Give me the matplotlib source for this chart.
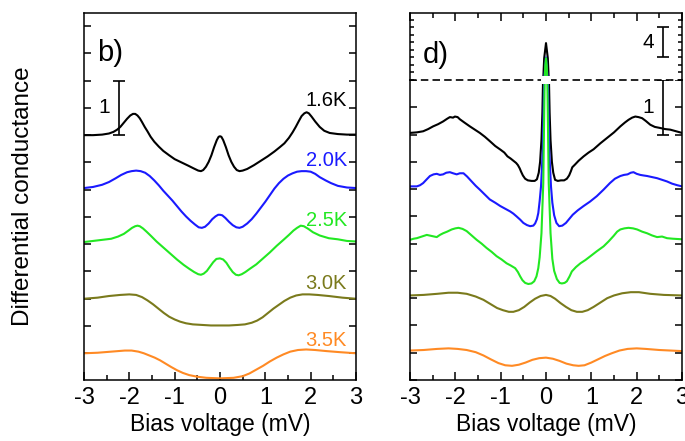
import matplotlib
matplotlib.use("Agg")
import matplotlib.pyplot as plt
from matplotlib.ticker import MultipleLocator
from matplotlib.patches import Rectangle
from matplotlib.transforms import blended_transform_factory

plt.rcParams['font.family'] = ['Liberation Sans', 'DejaVu Sans']
plt.rcParams['axes.unicode_minus'] = False

# ---------------- data: panel b) ----------------
b_x_16 = [-3.0, -2.8, -2.6, -2.45, -2.35, -2.27, -2.2, -2.12, -2.05, -1.98, -1.92, -1.87, -1.82,
          -1.77, -1.72, -1.66, -1.6, -1.53, -1.45, -1.35, -1.25, -1.12, -1.0, -0.85, -0.7, -0.58,
          -0.48, -0.42, -0.37, -0.31, -0.25, -0.19, -0.13, -0.07, -0.03, 0.0, 0.03, 0.07, 0.13,
          0.19, 0.25, 0.31, 0.37, 0.43, 0.5, 0.6, 0.75, 0.9, 1.05, 1.2, 1.32, 1.42, 1.52, 1.6,
          1.67, 1.74, 1.8, 1.86, 1.91, 1.96, 2.02, 2.1, 2.2, 2.3, 2.42, 2.6, 2.8, 3.0]
b_y_16 = [4.00, 4.00, 4.01, 4.03, 4.06, 4.10, 4.15, 4.23, 4.30, 4.36, 4.39, 4.39, 4.36,
          4.31, 4.24, 4.15, 4.07, 3.97, 3.88, 3.79, 3.71, 3.63, 3.56, 3.50, 3.44, 3.39,
          3.35, 3.34, 3.36, 3.42, 3.51, 3.63, 3.78, 3.91, 3.97, 3.98, 3.97, 3.91, 3.78,
          3.63, 3.51, 3.42, 3.36, 3.34, 3.35, 3.38, 3.45, 3.53, 3.61, 3.70, 3.78, 3.85, 3.95, 4.05,
          4.15, 4.26, 4.35, 4.40, 4.42, 4.40, 4.34, 4.25, 4.15, 4.08, 4.04, 4.02, 4.01, 4.01]

b_x_20 = [-3.0, -2.8, -2.6, -2.45, -2.3, -2.18, -2.05, -1.95, -1.85, -1.75, -1.65, -1.55, -1.45,
          -1.35, -1.25, -1.15, -1.05, -0.95, -0.85, -0.75, -0.65, -0.55, -0.47, -0.4, -0.33,
          -0.25, -0.17, -0.1, -0.04, 0.0, 0.05, 0.12, 0.2, 0.28, 0.36, 0.43, 0.5, 0.6, 0.7, 0.8,
          0.9, 1.0, 1.1, 1.2, 1.3, 1.4, 1.5, 1.6, 1.7, 1.8, 1.9, 2.0, 2.1, 2.2, 2.33, 2.45, 2.6,
          2.8, 3.0]
b_y_20 = [3.03, 3.05, 3.09, 3.14, 3.21, 3.27, 3.32, 3.34, 3.35, 3.34, 3.31, 3.25, 3.17,
          3.08, 2.98, 2.89, 2.80, 2.70, 2.60, 2.51, 2.43, 2.36, 2.31, 2.30, 2.32,
          2.38, 2.46, 2.51, 2.54, 2.54, 2.53, 2.48, 2.41, 2.35, 2.31, 2.30, 2.32, 2.38, 2.46, 2.56,
          2.67, 2.78, 2.90, 3.02, 3.12, 3.20, 3.26, 3.30, 3.33, 3.34, 3.34, 3.33, 3.29, 3.23, 3.17,
          3.12, 3.07, 3.04, 3.03]

b_x_25 = [-3.0, -2.8, -2.6, -2.4, -2.25, -2.12, -2.02, -1.94, -1.87, -1.82, -1.77, -1.7, -1.62,
          -1.52, -1.4, -1.25, -1.1, -0.95, -0.8, -0.68, -0.57, -0.48, -0.42, -0.36, -0.29, -0.22,
          -0.15, -0.08, 0.0, 0.07, 0.14, 0.21, 0.28, 0.35, 0.41, 0.48, 0.56, 0.66, 0.8, 0.95, 1.1,
          1.25, 1.4, 1.52, 1.62, 1.7, 1.78, 1.85, 1.95, 2.05, 2.2, 2.4, 2.6, 2.8, 3.0]
b_y_25 = [2.04, 2.06, 2.08, 2.10, 2.14, 2.19, 2.25, 2.30, 2.33, 2.34, 2.33, 2.29, 2.23,
          2.15, 2.05, 1.94, 1.83, 1.72, 1.62, 1.55, 1.49, 1.45, 1.44, 1.46, 1.51, 1.59,
          1.67, 1.73, 1.74, 1.72, 1.66, 1.57, 1.49, 1.44, 1.43, 1.45, 1.49, 1.55, 1.63, 1.74, 1.85,
          1.97, 2.08, 2.17, 2.25, 2.30, 2.34, 2.33, 2.28, 2.22, 2.16, 2.11, 2.09, 2.06, 2.05]

b_x_30 = [-3.0, -2.7, -2.45, -2.2, -2.0, -1.85, -1.72, -1.6, -1.48, -1.36, -1.24, -1.12, -1.0,
          -0.88, -0.75, -0.6, -0.4, -0.2, 0.0, 0.2, 0.4, 0.55, 0.7, 0.82, 0.94, 1.06, 1.18, 1.3,
          1.42, 1.55, 1.68, 1.82, 1.97, 2.15, 2.4, 2.7, 3.0]
b_y_30 = [1.00, 1.02, 1.05, 1.07, 1.08, 1.07, 1.03, 0.97, 0.90, 0.82, 0.74, 0.67, 0.62,
          0.58, 0.55, 0.53, 0.52, 0.51, 0.51, 0.51, 0.52, 0.53, 0.56, 0.60, 0.66, 0.74, 0.82, 0.89,
          0.96, 1.02, 1.06, 1.08, 1.08, 1.07, 1.05, 1.02, 1.00]

b_x_35 = [-3.0, -2.7, -2.4, -2.1, -1.95, -1.8, -1.68, -1.56, -1.44, -1.32, -1.2, -1.08, -0.95,
          -0.82, -0.68, -0.5, -0.3, 0.0, 0.3, 0.5, 0.65, 0.8, 0.95, 1.1, 1.25, 1.4, 1.55, 1.72,
          1.9, 2.1, 2.35, 2.65, 3.0]
b_y_35 = [0.00, 0.01, 0.03, 0.05, 0.05, 0.03, 0.00, -0.04, -0.08, -0.13, -0.19, -0.25, -0.31,
          -0.36, -0.40, -0.43, -0.45, -0.46, -0.45, -0.42, -0.37, -0.30, -0.23, -0.15, -0.08,
          -0.02, 0.03, 0.06, 0.07, 0.06, 0.04, 0.02, 0.00]

# ---------------- data: panel d) ----------------
d_x_16 = [-3.0, -2.85, -2.71, -2.6, -2.49, -2.38, -2.27, -2.18, -2.12, -2.05, -2.01, -1.95, -1.9,
          -1.8, -1.68, -1.57, -1.46, -1.35, -1.24, -1.12, -1.0, -0.92, -0.85, -0.78, -0.72, -0.66,
          -0.62, -0.58, -0.55, -0.51, -0.46, -0.4, -0.32, -0.25, -0.2, -0.16, -0.13, -0.1, -0.08,
          -0.06, -0.04, 0.0, 0.04, 0.06, 0.08, 0.1, 0.13, 0.16, 0.2, 0.26, 0.33, 0.4, 0.46, 0.51,
          0.55, 0.58, 0.64, 0.72, 0.83, 0.94, 1.05, 1.2, 1.35, 1.5, 1.64, 1.74, 1.82, 1.9, 1.97,
          2.04, 2.12, 2.2, 2.3, 2.4, 2.52, 2.63, 2.74, 2.87, 3.0]
d_y_16 = [4.03, 4.04, 4.06, 4.10, 4.15, 4.19, 4.24, 4.29, 4.32, 4.31, 4.33, 4.32, 4.28,
          4.22, 4.15, 4.09, 4.03, 3.96, 3.88, 3.79, 3.72, 3.67, 3.60, 3.56, 3.52, 3.48,
          3.44, 3.38, 3.32, 3.25, 3.19, 3.16, 3.15, 3.15, 3.18, 3.30, 3.50, 3.90, 4.4,
          5.2, 7.9, 9.9, 7.9, 5.2, 4.4, 3.90, 3.50, 3.30, 3.17, 3.15, 3.16, 3.16, 3.19, 3.25,
          3.33, 3.40, 3.45, 3.52, 3.60, 3.67, 3.73, 3.84, 3.94, 4.04, 4.15, 4.22, 4.27, 4.31, 4.33,
          4.32, 4.30, 4.25, 4.18, 4.14, 4.12, 4.10, 4.09, 4.06, 4.03]

d_x_20 = [-3.0, -2.85, -2.78, -2.71, -2.63, -2.56, -2.48, -2.41, -2.34, -2.27, -2.2, -2.12, -2.05,
          -1.97, -1.9, -1.82, -1.74, -1.64, -1.55, -1.46, -1.35, -1.24, -1.12, -1.01, -0.9, -0.79,
          -0.72, -0.65, -0.57, -0.5, -0.42, -0.35, -0.28, -0.24, -0.2, -0.17, -0.14, -0.11, -0.07,
          -0.04, -0.02, 0.0, 0.02, 0.04, 0.07, 0.11, 0.14, 0.18, 0.23, 0.29, 0.36, 0.44, 0.52, 0.59,
          0.7, 0.83, 0.97, 1.12, 1.27, 1.41, 1.52, 1.64, 1.72, 1.8, 1.87, 1.93, 2.0, 2.08, 2.15,
          2.23, 2.34, 2.45, 2.56, 2.67, 2.78, 2.9, 3.0]
d_y_20 = [3.05, 3.05, 3.07, 3.11, 3.18, 3.24, 3.27, 3.28, 3.26, 3.27, 3.30, 3.31, 3.29,
          3.27, 3.29, 3.29, 3.23, 3.14, 3.06, 2.99, 2.90, 2.81, 2.75, 2.69, 2.64, 2.59,
          2.55, 2.50, 2.44, 2.38, 2.34, 2.32, 2.33, 2.37, 2.45, 2.56, 2.78, 3.05, 3.72,
          5.0, 6.5, 8.0, 6.5, 5.0, 3.72, 3.05, 2.75, 2.52, 2.38, 2.32, 2.33, 2.38, 2.46, 2.53,
          2.61, 2.69, 2.77, 2.87, 2.99, 3.11, 3.19, 3.24, 3.26, 3.27, 3.30, 3.31, 3.28, 3.26, 3.25,
          3.24, 3.22, 3.20, 3.17, 3.14, 3.10, 3.07, 3.05]

d_x_25 = [-3.0, -2.92, -2.85, -2.74, -2.63, -2.52, -2.41, -2.34, -2.27, -2.18, -2.08, -2.0, -1.93,
          -1.84, -1.75, -1.64, -1.53, -1.42, -1.31, -1.2, -1.09, -0.98, -0.87, -0.78, -0.68, -0.62,
          -0.57, -0.52, -0.46, -0.39, -0.32, -0.26, -0.21, -0.17, -0.14, -0.1, -0.06, -0.03,
          -0.015, 0.0, 0.015, 0.03, 0.06, 0.1, 0.14, 0.18, 0.24, 0.3, 0.35, 0.41, 0.46, 0.52, 0.57,
          0.66, 0.76, 0.87, 0.98, 1.12, 1.27, 1.38, 1.49, 1.57, 1.64, 1.73, 1.82, 1.92, 2.01, 2.12,
          2.23, 2.34, 2.45, 2.56, 2.67, 2.8, 3.0]
d_y_25 = [2.07, 2.09, 2.10, 2.13, 2.16, 2.14, 2.12, 2.16, 2.19, 2.22, 2.26, 2.28, 2.29,
          2.27, 2.23, 2.15, 2.07, 2.00, 1.92, 1.85, 1.77, 1.71, 1.64, 1.60, 1.55, 1.48,
          1.40, 1.33, 1.28, 1.26, 1.27, 1.31, 1.40, 1.55, 1.75, 2.19, 3.11, 5.0,
          7.0, 7.9, 7.0, 5.0, 3.11, 2.19, 1.72, 1.50, 1.35, 1.28, 1.27, 1.28, 1.31, 1.40, 1.49,
          1.57, 1.64, 1.70, 1.77, 1.86, 1.95, 2.04, 2.14, 2.22, 2.26, 2.28, 2.29, 2.28, 2.26, 2.22,
          2.19, 2.15, 2.12, 2.13, 2.10, 2.09, 2.08]

d_x_30 = [-3.0, -2.7, -2.4, -2.15, -1.95, -1.75, -1.55, -1.38, -1.22, -1.08, -0.95, -0.82, -0.72,
          -0.6, -0.48, -0.36, -0.24, -0.12, 0.0, 0.1, 0.2, 0.32, 0.44, 0.56, 0.68, 0.8, 0.92, 1.05,
          1.2, 1.35, 1.5, 1.68, 1.87, 2.05, 2.3, 2.6, 3.0]
d_y_30 = [1.05, 1.06, 1.08, 1.10, 1.10, 1.08, 1.03, 0.97, 0.89, 0.82, 0.78, 0.75, 0.75,
          0.78, 0.84, 0.92, 0.99, 1.04, 1.06, 1.04, 0.99, 0.91, 0.84, 0.78, 0.75, 0.75, 0.78, 0.84,
          0.92, 1.00, 1.05, 1.09, 1.11, 1.11, 1.08, 1.06, 1.05]

d_x_35 = [-3.0, -2.7, -2.4, -2.15, -1.95, -1.75, -1.55, -1.38, -1.22, -1.05, -0.9, -0.75, -0.6,
          -0.45, -0.3, -0.15, 0.0, 0.15, 0.3, 0.45, 0.6, 0.72, 0.85, 1.0, 1.15, 1.3, 1.45, 1.62,
          1.8, 2.0, 2.2, 2.5, 3.0]
d_y_35 = [0.04, 0.05, 0.07, 0.08, 0.07, 0.05, 0.01, -0.05, -0.12, -0.19, -0.23, -0.24, -0.22,
          -0.18, -0.13, -0.10, -0.09, -0.11, -0.15, -0.20, -0.23, -0.24, -0.23, -0.18, -0.12,
          -0.06, -0.01, 0.04, 0.07, 0.08, 0.07, 0.05, 0.03]

temps = ["1.6K", "2.0K", "2.5K", "3.0K", "3.5K"]
colors = ["#000000", "#1a1aff", "#22e822", "#7a7a1c", "#ff8a24"]
label_y = [4.64, 3.54, 2.44, 1.28, 0.24]

b_series = [(b_x_16, b_y_16), (b_x_20, b_y_20), (b_x_25, b_y_25), (b_x_30, b_y_30), (b_x_35, b_y_35)]
d_series = [(d_x_16, d_y_16), (d_x_20, d_y_20), (d_x_25, d_y_25), (d_x_30, d_y_30), (d_x_35, d_y_35)]

W, H = 685, 441
fig = plt.figure(figsize=(W / 100, H / 100), dpi=100)

def frac(x0, y0, x1, y1):
    return [x0 / W, 1 - y1 / H, (x1 - x0) / W, (y1 - y0) / H]

LW = 1.5
SPW = 1.1
TFS = 17

def style_x(ax):
    ax.xaxis.set_major_locator(MultipleLocator(1))
    ax.xaxis.set_minor_locator(MultipleLocator(0.5))
    ax.tick_params(axis='x', which='major', direction='in', length=6, width=SPW, labelsize=TFS, pad=5)
    ax.tick_params(axis='x', which='minor', direction='in', length=3.5, width=SPW)

# ---------------- panel b ----------------
axb = fig.add_axes(frac(84, 13, 356, 380))
for (xs, ys), c in zip(b_series, colors):
    axb.plot(xs, ys, color=c, lw=LW)
axb.set_xlim(-3, 3)
axb.set_ylim(-0.49, 6.24)
style_x(axb)
axb.yaxis.set_major_locator(MultipleLocator(0.5))
axb.tick_params(axis='y', which='major', direction='in', length=5, width=SPW, left=True, right=True,
                labelleft=False)
for s in axb.spines.values():
    s.set_linewidth(SPW)
for t, c, ly in zip(temps, colors, label_y):
    axb.text(2.8, ly, t, color=c, ha='right', va='center', fontsize=14.5)
axb.text(-2.72, 5.5, "b)", fontsize=21, ha='left', va='center')
axb.errorbar([-2.23], [4.5], yerr=[[0.5], [0.5]], color='black', capsize=4, lw=1.2, capthick=1.2)
axb.text(-2.42, 4.5, "1", fontsize=15, ha='right', va='center')
axb.set_xlabel("Bias voltage (mV)", fontsize=16.5, labelpad=3)
axb.set_ylabel("Differential conductance", fontsize=17.5, labelpad=36)

# ---------------- panel d (lower) ----------------
axd = fig.add_axes(frac(410, 80, 682, 380))
axt = fig.add_axes(frac(410, 13, 682, 80), sharex=axd)
for (xs, ys), c in zip(d_series, colors):
    axd.plot(xs, ys, color=c, lw=LW)
    axt.plot(xs, ys, color=c, lw=LW)
axd.set_xlim(-3, 3)
axd.set_ylim(-0.5, 5.0)
axt.set_ylim(5.0, 13.9)
style_x(axd)
axd.yaxis.set_major_locator(MultipleLocator(0.5))
axd.tick_params(axis='y', which='major', direction='in', length=5, width=SPW, left=True, right=True,
                labelleft=False)
axd.spines['top'].set_visible(False)
for k in ['left', 'right', 'bottom']:
    axd.spines[k].set_linewidth(SPW)
axd.set_xlabel("Bias voltage (mV)", fontsize=16.5, labelpad=3)
axd.errorbar([2.57], [4.5], yerr=[[0.5], [0.5]], color='black', capsize=4, lw=1.2, capthick=1.2)
axd.text(2.38, 4.5, "1", fontsize=15, ha='right', va='center')

# ---------------- panel d (upper, compressed) ----------------
axt.yaxis.set_major_locator(MultipleLocator(1))
axt.tick_params(axis='x', which='both', direction='in', bottom=False, top=True, labelbottom=False,
                width=SPW)
axt.tick_params(axis='x', which='major', length=6)
axt.tick_params(axis='x', which='minor', length=3.5)
axt.tick_params(axis='y', which='major', direction='in', length=3, width=SPW, left=True, right=True,
                labelleft=False)
for k in ['left', 'right', 'top']:
    axt.spines[k].set_linewidth(SPW)
axt.spines['bottom'].set_linestyle((0, (3.5, 3.5)))
axt.spines['bottom'].set_linewidth(1.2)
axt.text(-2.72, 8.3, "d)", fontsize=21, ha='left', va='center')
axt.errorbar([2.57], [10.0], yerr=[[2.0], [2.0]], color='black', capsize=4, lw=1.2, capthick=1.2)
axt.text(2.38, 10.0, "4", fontsize=15, ha='right', va='center')

# small white break mark where the peak crosses the axis break
tr = blended_transform_factory(axd.transData, fig.transFigure)
fig.add_artist(Rectangle((-0.1, 1 - 84 / H), 0.2, 8 / H, transform=tr, facecolor='white',
                         edgecolor='none', zorder=5))

fig.savefig("out.png", dpi=100)
